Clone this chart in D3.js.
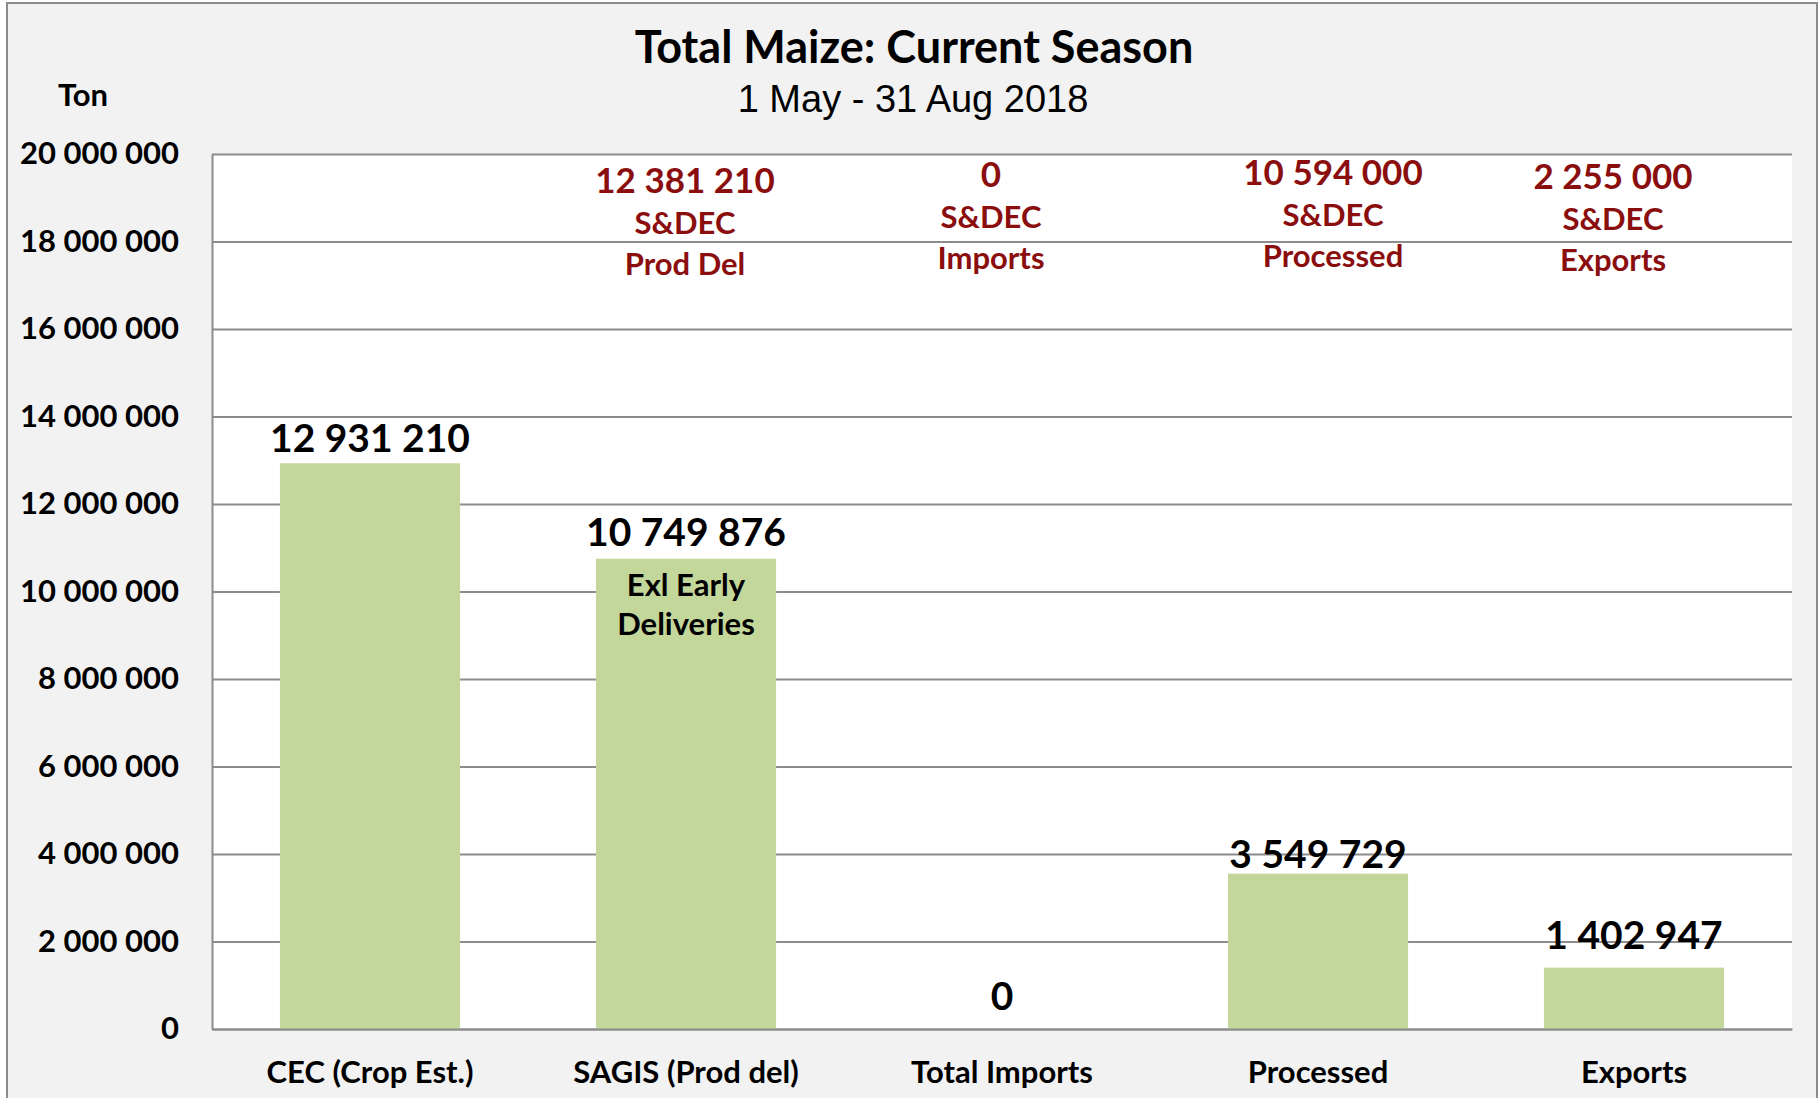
<!DOCTYPE html>
<html>
<meta charset="utf-8">
<head>
    <script src="https://d3js.org/d3.v7.min.js"></script>
    <style>
        body { margin: 0; background: #ffffff; }
    </style>
</head>
<body>
    <div id="my_dataviz"></div>
</body>

<script>
    // data
    const categories = ["CEC (Crop Est.)", "SAGIS (Prod del)", "Total Imports", "Processed", "Exports"];
    const values = [12931210, 10749876, 0, 3549729, 1402947];
    const yTicks = [0, 2000000, 4000000, 6000000, 8000000, 10000000, 12000000, 14000000, 16000000, 18000000, 20000000];
    // S&DEC figures shown in red above the bars
    const sdecValues = [null, 12381210, 0, 10594000, 2255000];
    const sdecNames = [null, "Prod Del", "Imports", "Processed", "Exports"];
    const barNote = [null, ["Exl Early", "Deliveries"], null, null, null];

    const W = 1819, H = 1098;
    const margin = { top: 154, right: 27, bottom: 69, left: 212 },
        width = W - margin.left - margin.right,
        height = H - margin.top - margin.bottom;

    // hand placement of the labels (Excel text boxes were moved by hand)
    const labelGap = [11, 13, 19, 6, 19];
    const sdecShift = [0, -1, -11, 15, -21];
    const sdecBase = [0, 193, 187, 185, 189];

    const fmt = d3.formatLocale({ decimal: ".", thousands: " ", grouping: [3], currency: ["", ""] }).format(",");
    const font = "Lato, 'Open Sans', sans-serif";
    const red = "#8b0e0e";
    const grid = "#8c8c8c";

    const svg = d3.select("#my_dataviz")
        .append("svg")
            .attr("width", W)
            .attr("height", H)
            .style("font-family", font);

    // chart area background and border
    svg.append("rect")
        .attr("x", 0).attr("y", 0).attr("width", W).attr("height", H)
        .attr("fill", "#ffffff");
    svg.append("rect")
        .attr("x", 7).attr("y", 3).attr("width", 1810).attr("height", H + 10)
        .attr("fill", "#f2f2f2")
        .attr("stroke", grid)
        .attr("stroke-width", 2);

    const g = svg.append("g")
        .attr("transform", `translate(${margin.left}, ${margin.top})`);

    g.append("rect")
        .attr("width", width).attr("height", height)
        .attr("fill", "#ffffff");

    // scales
    const x = d3.scaleBand()
        .domain(categories)
        .range([0, width])
        .paddingInner(0.43)
        .paddingOuter(0.215);

    const y = d3.scaleLinear()
        .domain([0, 20000000])
        .range([height, 0]);

    // Y axis + gridlines
    const yAxis = g.append("g")
        .call(d3.axisLeft(y)
            .tickValues(yTicks)
            .tickSize(-width)
            .tickSizeOuter(0)
            .tickPadding(33)
            .tickFormat(fmt));
    yAxis.attr("font-family", null);
    yAxis.selectAll(".tick line")
        .attr("stroke", grid)
        .attr("stroke-width", 2);
    yAxis.select(".domain")
        .attr("stroke", grid)
        .attr("stroke-width", 2);
    yAxis.selectAll("text")
        .attr("fill", "#000")
        .style("font-family", font)
        .style("font-size", "31px")
        .style("font-weight", "700");

    // bars
    g.selectAll("rect.bar")
        .data(values)
        .join("rect")
            .attr("class", "bar")
            .attr("x", (d, i) => x(categories[i]))
            .attr("y", d => y(d))
            .attr("width", x.bandwidth())
            .attr("height", d => height - y(d))
            .attr("fill", "#c4d79b");

    // X axis
    const xAxis = g.append("g")
        .attr("transform", `translate(0, ${height})`)
        .call(d3.axisBottom(x).tickSize(0).tickPadding(32));
    xAxis.attr("font-family", null);
    xAxis.select(".domain")
        .attr("stroke", grid)
        .attr("stroke-width", 2);
    xAxis.selectAll("text")
        .attr("fill", "#000")
        .style("font-family", font)
        .style("font-size", "31px")
        .style("font-weight", "700");

    // value labels
    g.selectAll("text.val")
        .data(values)
        .join("text")
            .attr("class", "val")
            .attr("x", (d, i) => x(categories[i]) + x.bandwidth() / 2)
            .attr("y", (d, i) => y(d) - labelGap[i])
            .attr("text-anchor", "middle")
            .style("font-size", "39px")
            .style("font-weight", "700")
            .text(d => fmt(d));

    // note inside SAGIS bar
    barNote.forEach((lines, i) => {
        if (!lines) return;
        lines.forEach((t, k) => {
            g.append("text")
                .attr("x", x(categories[i]) + x.bandwidth() / 2)
                .attr("y", y(values[i]) + 37 + k * 39)
                .attr("text-anchor", "middle")
                .style("font-size", "31px")
                .style("font-weight", "700")
                .text(t);
        });
    });

    // red S&DEC annotations
    sdecValues.forEach((v, i) => {
        if (v === null) return;
        const cx = margin.left + x(categories[i]) + x.bandwidth() / 2 + sdecShift[i];
        [fmt(v), "S&DEC", sdecNames[i]].forEach((t, k) => {
            svg.append("text")
                .attr("x", cx)
                .attr("y", sdecBase[i] + k * 41)
                .attr("text-anchor", "middle")
                .attr("fill", red)
                .style("font-size", k === 0 ? "35px" : "31px")
                .style("font-weight", "700")
                .text(t);
        });
    });

    // titles
    svg.append("text")
        .attr("x", 914).attr("y", 63)
        .attr("text-anchor", "middle")
        .style("font-size", "45px")
        .style("font-weight", "700")
        .text("Total Maize: Current Season");

    svg.append("text")
        .attr("x", 913).attr("y", 112)
        .attr("text-anchor", "middle")
        .style("font-family", "'Liberation Sans', Arial, sans-serif")
        .style("font-size", "38px")
        .text("1 May - 31 Aug 2018");

    svg.append("text")
        .attr("x", 83).attr("y", 106)
        .attr("text-anchor", "middle")
        .style("font-size", "31px")
        .style("font-weight", "700")
        .text("Ton");
</script>
</html>
